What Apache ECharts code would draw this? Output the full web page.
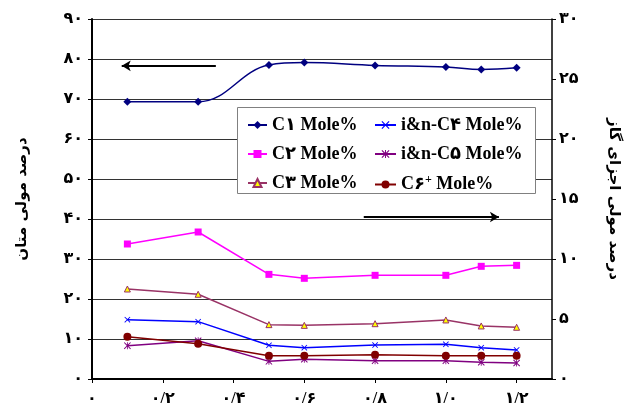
<!DOCTYPE html>
<html>
<head>
<meta charset="utf-8">
<script src="https://cdn.jsdelivr.net/npm/echarts@6/dist/echarts.min.js"></script>
<style>html,body{margin:0;padding:0;background:#fff}#c{width:629px;height:410px}</style>
</head>
<body>
<div id="c"></div>
<script>
const xValues = [0.1, 0.3, 0.5, 0.6, 0.8, 1.0, 1.1, 1.2];
const c1 = [69.3, 69.3, 78.5, 79.1, 78.4, 78.0, 77.4, 77.8];
const c2 = [11.25, 12.25, 8.72, 8.39, 8.64, 8.64, 9.39, 9.47];
const c3 = [7.5, 7.06, 4.53, 4.47, 4.61, 4.92, 4.42, 4.31];
const c4 = [4.94, 4.78, 2.81, 2.61, 2.83, 2.89, 2.61, 2.42];
const c5 = [2.78, 3.19, 1.47, 1.64, 1.53, 1.53, 1.39, 1.33];
const c6 = [3.53, 2.94, 1.94, 1.94, 2.03, 1.94, 1.94, 1.94];

const seriesNames = ['C۱ Mole%', 'C۲ Mole%', 'C۳ Mole%', 'i&n-C۴ Mole%', 'i&n-C۵ Mole%', 'C۶+ Mole%'];
const xTickLabels = ['۰', '۰/۲', '۰/۴', '۰/۶', '۰/۸', '۱/۰', '۱/۲'];
const leftTickLabels = ['۰', '۱۰', '۲۰', '۳۰', '۴۰', '۵۰', '۶۰', '۷۰', '۸۰', '۹۰'];
const rightTickLabels = ['۰', '۵', '۱۰', '۱۵', '۲۰', '۲۵', '۳۰'];
const leftAxisName = 'درصد مولی متان';
const rightAxisName = 'درصد مولی اجزای گاز';

// annotation arrows (in data coordinates)
const leftArrow = { x: [0.084, 0.35], y: 78.3 };
const rightArrow = { x: [0.768, 1.15], y: 13.5 };

const FONT = '"Liberation Serif", "DejaVu Sans", serif';
const pts = (ys) => xValues.map((x, i) => [x, ys[i]]);
const xSym = 'path://M0,1L1,0L5,4L9,0L10,1L6,5L10,9L9,10L5,6L1,10L0,9L4,5Z';
const starSym = 'path://M0,1L1,0L5,4L9,0L10,1L6,5L10,9L9,10L5,6L1,10L0,9L4,5Z M4.4,0L5.6,0L5.6,10L4.4,10Z';

const chart = echarts.init(document.getElementById('c'), null, { renderer: 'canvas' });

const labelStyle = { color: '#000', fontFamily: FONT, fontWeight: 'bold', fontSize: 16 };
const legendCommon = {
  orient: 'vertical',
  itemGap: 11,
  itemHeight: 10,
  z: 5,
  selectedMode: false,
  formatter: function (name) {
    if (name.indexOf('+') >= 0) return '{a|C۶}{s|+}{a| Mole%}';
    return '{a|' + name + '}';
  },
  textStyle: {
    color: '#000', fontFamily: FONT, fontWeight: 'bold', fontSize: 18, lineHeight: 18,
    rich: {
      a: { color: '#000', fontFamily: FONT, fontWeight: 'bold', fontSize: 18, lineHeight: 18 },
      s: { color: '#000', fontFamily: FONT, fontWeight: 'bold', fontSize: 12, lineHeight: 18, padding: [0, 0, 9, 0] }
    }
  }
};

const option = {
  backgroundColor: '#fff',
  animation: false,
  grid: { left: 92, right: 72, top: 19, bottom: 31, containLabel: false },
  graphic: [{
    type: 'rect', z: 3,
    shape: { x: 237.5, y: 107.5, width: 298, height: 86 },
    style: { fill: '#fff', stroke: '#808080', lineWidth: 1 }
  }],
  legend: [
    Object.assign({ left: 242, top: 111, itemWidth: 19, data: seriesNames.slice(0, 3) }, legendCommon),
    Object.assign({ left: 369, top: 111, itemWidth: 21, data: seriesNames.slice(3, 6) }, legendCommon)
  ],
  xAxis: {
    type: 'value', min: 0, max: 1.3, interval: 0.2,
    axisLine: { lineStyle: { color: '#000', width: 2 } },
    axisTick: { length: 4, lineStyle: { color: '#000' } },
    splitLine: { show: false },
    axisLabel: Object.assign({}, labelStyle, {
      margin: 12, showMaxLabel: false,
      formatter: (v) => xTickLabels[Math.round(v / 0.2)] || ''
    })
  },
  yAxis: [{
    type: 'value', min: 0, max: 90, interval: 10,
    name: leftAxisName, nameLocation: 'middle', nameRotate: 90, nameGap: 62,
    nameTextStyle: { color: '#000', fontFamily: '"DejaVu Sans", sans-serif', fontWeight: 'bold', fontSize: 15 },
    axisLine: { show: true, lineStyle: { color: '#000', width: 2 } },
    axisTick: { show: true, length: 4, lineStyle: { color: '#000' } },
    splitLine: { show: true, lineStyle: { color: '#333', width: 1 } },
    axisLabel: Object.assign({}, labelStyle, {
      margin: 9,
      formatter: (v) => leftTickLabels[Math.round(v / 10)]
    })
  }, {
    type: 'value', min: 0, max: 30, interval: 5, position: 'right',
    name: rightAxisName, nameLocation: 'middle', nameRotate: -90, nameGap: 54,
    nameTextStyle: { color: '#000', fontFamily: '"DejaVu Sans", sans-serif', fontWeight: 'bold', fontSize: 15 },
    axisLine: { show: true, lineStyle: { color: '#000', width: 1.5 } },
    axisTick: { show: true, length: 4, lineStyle: { color: '#000' } },
    splitLine: { show: false },
    axisLabel: Object.assign({}, labelStyle, {
      margin: 7,
      formatter: (v) => rightTickLabels[Math.round(v / 5)]
    })
  }],
  series: [
    {
      name: seriesNames[0], type: 'line', yAxisIndex: 0, data: pts(c1), smooth: 0.4,
      symbol: 'diamond', symbolSize: 8, z: 4,
      lineStyle: { color: '#000080', width: 1.5 },
      itemStyle: { color: '#000080' },
      markLine: {
        silent: true, symbol: ['arrow', 'none'], symbolSize: [8, 9],
        label: { show: false },
        lineStyle: { color: '#000', width: 2, type: 'solid' },
        data: [[{ coord: [leftArrow.x[0], leftArrow.y] }, { coord: [leftArrow.x[1], leftArrow.y] }]]
      }
    },
    {
      name: seriesNames[1], type: 'line', yAxisIndex: 1, data: pts(c2),
      symbol: 'rect', symbolSize: 7, z: 4,
      lineStyle: { color: '#FF00FF', width: 1.5 },
      itemStyle: { color: '#FF00FF' },
      markLine: {
        silent: true, symbol: ['none', 'arrow'], symbolSize: [8, 9],
        label: { show: false },
        lineStyle: { color: '#000', width: 2, type: 'solid' },
        data: [[{ coord: [rightArrow.x[0], rightArrow.y] }, { coord: [rightArrow.x[1], rightArrow.y] }]]
      }
    },
    {
      name: seriesNames[2], type: 'line', yAxisIndex: 1, data: pts(c3),
      symbol: 'triangle', symbolSize: 6, z: 4,
      lineStyle: { color: '#993366', width: 1.5 },
      itemStyle: { color: '#FFFF00', borderColor: '#993366', borderWidth: 1 }
    },
    {
      name: seriesNames[3], type: 'line', yAxisIndex: 1, data: pts(c4),
      symbol: xSym, symbolSize: 6, z: 4,
      lineStyle: { color: '#0000FF', width: 1.5 },
      itemStyle: { color: '#0000FF' }
    },
    {
      name: seriesNames[4], type: 'line', yAxisIndex: 1, data: pts(c5),
      symbol: starSym, symbolSize: 7, z: 4,
      lineStyle: { color: '#800080', width: 1.5 },
      itemStyle: { color: '#800080' }
    },
    {
      name: seriesNames[5], type: 'line', yAxisIndex: 1, data: pts(c6),
      symbol: 'circle', symbolSize: 8, z: 4,
      lineStyle: { color: '#800000', width: 1.5 },
      itemStyle: { color: '#800000' }
    }
  ]
};
chart.setOption(option);
</script>
</body>
</html>
